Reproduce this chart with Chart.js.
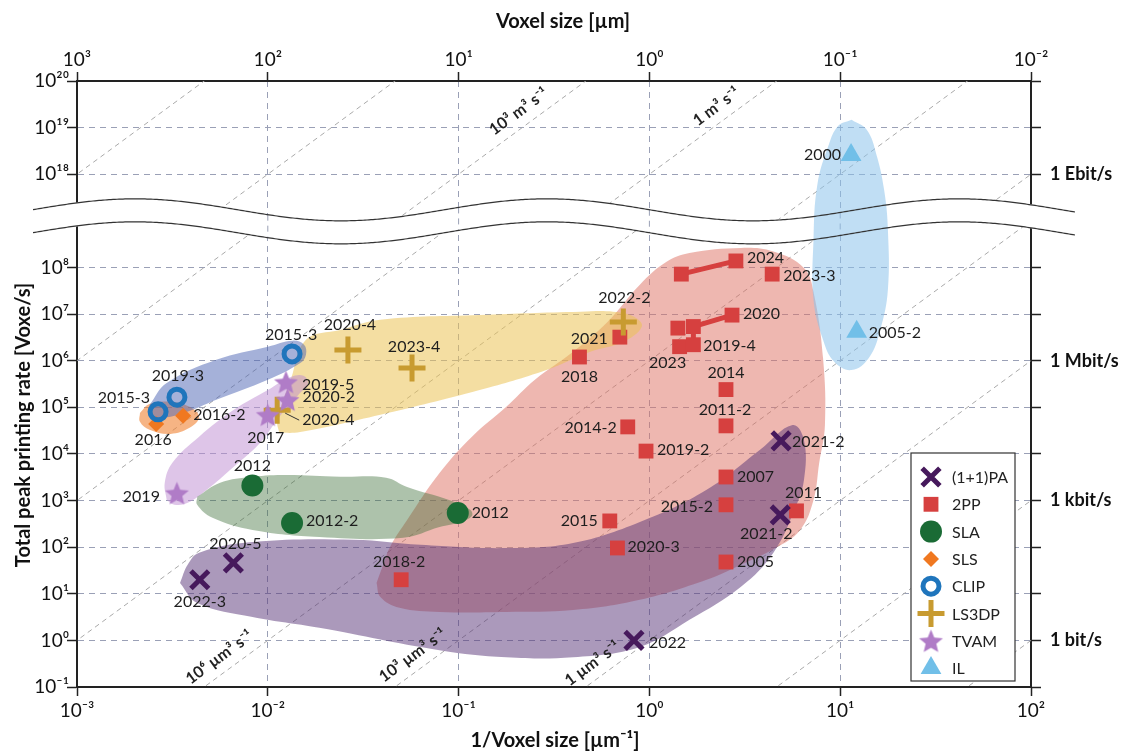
<!DOCTYPE html>
<html>
<head>
<meta charset="utf-8">
<script src="https://cdn.jsdelivr.net/npm/chart.js@4.4.1/dist/chart.umd.min.js"></script>
<style>
  html, body { margin: 0; padding: 0; background: #fff; }
  #wrap { width: 1124px; height: 753px; }
</style>
</head>
<body>
<div id="wrap"><canvas id="c" width="1124" height="753"></canvas></div>
<script>
'use strict'

// ---- values ----
// x = 1/voxel size [1/um], y = total peak printing rate [voxel/s]

const paX = [0.0044, 0.0066, 0.83, 4.9, 4.85]
const paY = [20, 46, 1.0, 1.9e4, 490]
const paYears = ['2022-3', '2020-5', '2022', '2021-2', '2021-2']

const ppX = [1.47, 2.84, 4.4, 1.41, 1.70, 2.71, 1.44, 1.70, 0.70, 0.43, 2.52, 2.52, 0.77, 0.96, 2.52, 2.52, 5.9, 0.62, 0.68, 2.52, 0.05]
const ppY = [7.2e7, 1.38e8, 7.2e7, 5.0e6, 5.4e6, 9.5e6, 2.0e6, 2.2e6, 3.2e6, 1.2e6, 2.4e5, 4.0e4, 3.8e4, 1.15e4, 3.2e3, 810, 600, 365, 96, 48, 20]
const ppYears = ['', '2024', '2023-3', '', '', '2020', '2023', '2019-4', '2021', '2018', '2014', '2011-2', '2014-2', '2019-2', '2007', '2015-2', '2011', '2015', '2020-3', '2005', '2018-2']
const ppLinks = [[0, 1], [4, 5], [4, 7]]

const slaX = [0.0083, 0.0134, 0.099]
const slaY = [2100, 330, 540]
const slaYears = ['2012', '2012-2', '2012']

const slsX = [0.0026, 0.0036]
const slsY = [4.4e4, 6.6e4]
const slsYears = ['2016', '2016-2']

const clipX = [0.00266, 0.00334, 0.0134]
const clipY = [8.0e4, 1.65e5, 1.4e6]
const clipYears = ['2015-3', '2019-3', '2015-3']

const lsX = [0.0263, 0.057, 0.73, 0.0112]
const lsY = [1.7e6, 7.0e5, 6.8e6, 8.7e4]
const lsYears = ['2020-4', '2023-4', '2022-2', '2020-4']

const tvX = [0.01245, 0.0127, 0.0100, 0.00334]
const tvY = [3.5e5, 1.45e5, 6.9e4, 1450]
const tvYears = ['2019-5', '2020-2', '2017', '2019']

const ilX = [11.4, 12.2]
const ilY = [2.6e18, 4.2e6]
const ilYears = ['2000', '2005-2']

// shaded regions, outline vertices as [log10 x, log10 y]
const ppArea = [[-1.43, 1.23], [-1.39, 1.68], [-1.36, 2.00], [-1.27, 2.58], [-1.10, 3.59], [-0.93, 4.37], [-0.75, 5.01], [-0.60, 5.59], [-0.40, 6.19], [-0.22, 6.83], [-0.05, 7.63], [0.09, 8.12], [0.21, 8.31], [0.48, 8.42], [0.65, 8.34], [0.81, 7.99], [0.86, 7.48], [0.91, 6.06], [0.92, 4.62], [0.89, 3.81], [0.86, 3.01], [0.79, 2.37], [0.66, 1.98], [0.48, 1.62], [0.30, 1.30], [-0.05, 0.87], [-0.40, 0.65], [-0.75, 0.61], [-1.10, 0.61], [-1.31, 0.70], [-1.41, 0.93]]
const paArea = [[-2.46, 1.23], [-2.42, 1.62], [-2.36, 1.88], [-2.08, 2.11], [-1.55, 2.16], [-1.20, 2.05], [-0.75, 1.98], [-0.40, 2.09], [-0.05, 2.54], [0.30, 3.23], [0.58, 4.09], [0.75, 4.62], [0.81, 4.30], [0.81, 3.44], [0.76, 2.80], [0.65, 1.88], [0.48, 1.15], [0.21, 0.44], [-0.05, -0.14], [-0.40, -0.36], [-0.75, -0.36], [-1.10, -0.21], [-1.73, 0.27], [-2.08, 0.50], [-2.37, 0.80]]
const slaArea = [[-2.37, 3.08], [-2.25, 3.38], [-2.08, 3.51], [-1.90, 3.55], [-1.62, 3.51], [-1.38, 3.49], [-1.27, 3.29], [-1.05, 3.01], [-0.94, 2.80], [-0.93, 2.67], [-0.99, 2.54], [-1.10, 2.43], [-1.29, 2.20], [-1.73, 2.22], [-2.08, 2.37], [-2.29, 2.63], [-2.37, 2.91]]
const lsArea = [[-1.94, 4.45], [-1.95, 4.73], [-1.88, 5.59], [-1.80, 6.45], [-1.62, 6.66], [-1.41, 6.88], [-0.89, 6.98], [-0.36, 7.05], [-0.19, 7.05], [-0.08, 6.94], [-0.04, 6.73], [-0.14, 6.40], [-0.31, 6.19], [-0.54, 5.80], [-0.89, 5.37], [-1.41, 4.84], [-1.83, 4.47]]
const slsArea = [[-2.67, 4.88], [-2.62, 5.07], [-2.51, 5.12], [-2.41, 5.01], [-2.36, 4.79], [-2.41, 4.56], [-2.51, 4.43], [-2.62, 4.52], [-2.67, 4.69]]
const clipArea = [[-2.62, 5.05], [-2.53, 5.52], [-2.27, 6.02], [-2.00, 6.30], [-1.87, 6.43], [-1.81, 6.34], [-1.80, 6.13], [-1.83, 5.95], [-2.00, 5.59], [-2.27, 5.16], [-2.44, 4.88], [-2.58, 4.77], [-2.62, 4.88]]
const tvArea = [[-2.53, 3.01], [-2.54, 3.38], [-2.50, 3.81], [-2.36, 4.37], [-2.18, 4.94], [-2.00, 5.37], [-1.88, 5.65], [-1.81, 5.67], [-1.79, 5.48], [-1.83, 5.31], [-1.94, 4.79], [-2.04, 4.24], [-2.18, 3.72], [-2.32, 3.23], [-2.42, 2.95], [-2.49, 2.91]]
const ilArea = [[1.06, 19.17], [1.14, 18.95], [1.19, 18.42], [1.23, 17.67], [1.25, 8.81], [1.25, 7.52], [1.21, 6.66], [1.15, 6.06], [1.06, 5.80], [0.97, 5.97], [0.91, 6.45], [0.86, 7.31], [0.86, 8.59], [0.88, 17.77], [0.94, 18.63], [0.99, 19.04]]

// iso volume-rate lines y = 10^c * x^3 (c in um^3/s)
const isoLow = [-6, -3, 0, 3, 6, 9, 12, 15]
const isoHigh = [12, 15, 18, 21, 24, 27]
const isoTags = [
  { c: 6, x: 0.0062, text: '10⁶ µm³ s⁻¹' },
  { c: 3, x: 0.064, text: '10³ µm³ s⁻¹' },
  { c: 0, x: 0.56, text: '1 µm³ s⁻¹' },
  { c: 21, x: 0.23, text: '10³ m³ s⁻¹' },
  { c: 18, x: 2.5, text: '1 m³ s⁻¹' }
]

const xDecades = [-3, -2, -1, 0, 1, 2]
const yStops = [-1, 0, 1, 2, 3, 4, 5, 6, 7, 8, 10, 11, 12]
const bitRates = { 0: '1 bit/s', 3: '1 kbit/s', 6: '1 Mbit/s', 10: '1 Ebit/s' }

// ---- label placement (pixel offsets from the marker) ----
const paLabelPos = [[0, 22, 'c'], [2, -19, 'c'], [15, 2, 'l'], [11, 1, 'l'], [-14, 19, 'c']]
const ppLabelPos = [null, [11, -3, 'l'], [11, 2, 'l'], null, null, [11, -1, 'l'], [-12, 16, 'c'], [10, 1, 'l'], [-12, 2, 'r'], [0, 20, 'c'], [0, -17, 'c'], [-1, -16, 'c'], [-11, 1, 'r'], [11, -1, 'l'], [11, 0, 'l'], [-13, 2, 'r'], [7, -18, 'c'], [-12, 0, 'r'], [10, -1, 'l'], [11, 0, 'l'], [-2, -18, 'c']]
const slaLabelPos = [[0, -20, 'c'], [14, -2, 'l'], [14, 0, 'l']]
const slsLabelPos = [[-3, 16, 'c'], [10, -1, 'l']]
const clipLabelPos = [[-8, -14, 'r'], [1, -21, 'c'], [-1, -19, 'c']]
const lsLabelPos = [[2, -25, 'c'], [2, -21, 'c'], [1, -24, 'c'], [25, 10, 'l', true]]
const tvLabelPos = [[16, 3, 'l'], [15, -3, 'l'], [-2, 23, 'c'], [-17, 4, 'r']]
const ilLabelPos = [[-10, 0, 'r'], [12, 1, 'l']]

const SUP = { 0: '⁰', 1: '¹', 2: '²', 3: '³', 4: '⁴', 5: '⁵', 6: '⁶', 7: '⁷', 8: '⁸', 9: '⁹', '-': '⁻' }
const sup = n => String(n).split('').map(ch => SUP[ch]).join('')

// broken y axis: decades 1e-1..1e9 below the break, 1e17..1e20 above it
function toAxis (y) {
  const e = Math.log10(y)
  if (e <= 9) return e
  if (e >= 17) return e - 8
  return 9
}

const points = (xs, ys) => xs.map((x, i) => ({ x, y: toAxis(ys[i]) }))

function outline (pts) {
  const d = pts.map(p => ({ x: 10 ** p[0], y: toAxis(10 ** p[1]) }))
  d.push(d[0])
  return d
}

function isoLine (c, yFrom, yTo) {
  return [yFrom, yTo].map(y => ({ x: Math.cbrt(y / 10 ** c), y: toAxis(y) }))
}

function starImage (color, r) {
  const cv = document.createElement('canvas')
  cv.width = cv.height = Math.ceil(r * 2 + 2)
  const g = cv.getContext('2d')
  g.translate(cv.width / 2, cv.height / 2 + r * 0.1)
  g.beginPath()
  for (let i = 0; i < 10; i++) {
    const rr = i % 2 ? r * 0.45 : r
    const a = -Math.PI / 2 + i * Math.PI / 5
    g.lineTo(rr * Math.cos(a), rr * Math.sin(a))
  }
  g.closePath()
  g.fillStyle = color
  g.fill()
  return cv
}

const styles = {
  pa: { pointStyle: 'crossRot', pointRadius: 12.5, pointBackgroundColor: '#46195c', pointBorderColor: '#46195c', pointBorderWidth: 5 },
  pp: { pointStyle: 'rect', pointRadius: 10.5, pointBackgroundColor: '#d6403f', pointBorderColor: '#d6403f', pointBorderWidth: 0 },
  sla: { pointStyle: 'circle', pointRadius: 11, pointBackgroundColor: '#1a6b35', pointBorderColor: '#1a6b35', pointBorderWidth: 0 },
  sls: { pointStyle: 'rectRot', pointRadius: 8, pointBackgroundColor: '#f07820', pointBorderColor: '#f07820', pointBorderWidth: 0 },
  clip: { pointStyle: 'circle', pointRadius: 8, pointBackgroundColor: 'rgba(0,0,0,0)', pointBorderColor: '#1f75bc', pointBorderWidth: 5 },
  ls: { pointStyle: 'cross', pointRadius: 13.5, pointBackgroundColor: '#c89b30', pointBorderColor: '#c89b30', pointBorderWidth: 5 },
  tv: { pointStyle: starImage('#b07cc7', 12.5), pointRadius: 12, pointBackgroundColor: '#b07cc7', pointBorderColor: '#b07cc7', pointBorderWidth: 0 },
  il: { pointStyle: 'triangle', pointRadius: 12, pointBackgroundColor: '#71bfe8', pointBorderColor: '#71bfe8', pointBorderWidth: 0 }
}

function markers (xs, ys, years, pos, style, order) {
  return { type: 'scatter', data: points(xs, ys), yearLabels: years, labelPos: pos, order, ...style }
}

function blob (pts, color, order) {
  return { type: 'line', data: outline(pts), fill: 'shape', backgroundColor: color, borderWidth: 0, borderColor: 'rgba(0,0,0,0)', pointRadius: 0, tension: 0.4, order, isBlob: true }
}

const isoSets = [
  ...isoLow.map(c => isoLine(c, 1e-2, 1e9)),
  ...isoHigh.map(c => isoLine(c, 1e17, 1e22))
].map(data => ({ type: 'line', data, borderColor: '#a9a9a9', borderWidth: 1, borderDash: [5, 4], pointRadius: 0, fill: false, order: 20 }))

const linkSets = ppLinks.map(([a, b]) => ({
  type: 'line', data: points([ppX[a], ppX[b]], [ppY[a], ppY[b]]), borderColor: '#d6403f', borderWidth: 5, pointRadius: 0, fill: false, order: 8
}))

const datasets = [
  markers(paX, paY, paYears, paLabelPos, styles.pa, 0),
  markers(tvX, tvY, tvYears, tvLabelPos, styles.tv, 1),
  markers(clipX, clipY, clipYears, clipLabelPos, styles.clip, 2),
  markers(lsX, lsY, lsYears, lsLabelPos, styles.ls, 3),
  markers(slsX, slsY, slsYears, slsLabelPos, styles.sls, 4),
  markers(slaX, slaY, slaYears, slaLabelPos, styles.sla, 5),
  markers(ilX, ilY, ilYears, ilLabelPos, styles.il, 6),
  markers(ppX, ppY, ppYears, ppLabelPos, styles.pp, 7),
  ...linkSets,
  blob(ilArea, 'rgba(140,195,235,0.55)', 10),
  blob(paArea, 'rgba(88,52,120,0.5)', 11),
  blob(slaArea, 'rgba(60,110,55,0.42)', 12),
  blob(tvArea, 'rgba(190,140,210,0.5)', 13),
  blob(clipArea, 'rgba(75,100,180,0.5)', 14),
  blob(slsArea, 'rgba(240,130,50,0.6)', 15),
  blob(lsArea, 'rgba(235,195,85,0.55)', 16),
  blob(ppArea, 'rgba(222,112,98,0.5)', 17),
  ...isoSets
]

const legendRows = [['(1+1)PA', styles.pa], ['2PP', styles.pp], ['SLA', styles.sla], ['SLS', styles.sls], ['CLIP', styles.clip], ['LS3DP', styles.ls], ['TVAM', styles.tv], ['IL', styles.il]]

// ---- drawing helpers ----
const FONT = 'Lato, "DejaVu Sans", sans-serif'
const gridColor = '#9aa0b6'

function waveTop (chart, px) {
  const yc = chart.scales.y.getPixelForValue(9)
  const x0 = chart.chartArea.left
  return yc - 11 - 11 * Math.cos(2 * Math.PI * (px - x0 - 58) / 412)
}
const GAP = 23

function wavePath (ctx, chart, off) {
  ctx.beginPath()
  for (let px = 33; px <= 1075; px += 2) ctx.lineTo(px, waveTop(chart, px) + off)
}

function drawGap (chart) {
  const ctx = chart.ctx
  ctx.save()
  ctx.beginPath()
  for (let px = 33; px <= 1075; px += 2) ctx.lineTo(px, waveTop(chart, px) - 0.5)
  for (let px = 1075; px >= 33; px -= 2) ctx.lineTo(px, waveTop(chart, px) + GAP + 0.5)
  ctx.closePath()
  ctx.fillStyle = '#fff'
  ctx.fill()
  ctx.strokeStyle = gridColor
  ctx.lineWidth = 1
  ctx.setLineDash([6, 5])
  xDecades.slice(1, -1).forEach(e => {
    const px = chart.scales.x.getPixelForValue(10 ** e)
    ctx.beginPath()
    ctx.moveTo(px, waveTop(chart, px))
    ctx.lineTo(px, waveTop(chart, px) + GAP)
    ctx.stroke()
  })
  ctx.restore()
}

function drawWaves (chart) {
  const ctx = chart.ctx
  ctx.save()
  ctx.strokeStyle = '#333'
  ctx.lineWidth = 1.2
  wavePath(ctx, chart, 0)
  ctx.stroke()
  wavePath(ctx, chart, GAP)
  ctx.stroke()
  ctx.restore()
}

function drawIsoTags (chart) {
  const ctx = chart.ctx
  const xs = chart.scales.x
  const ys = chart.scales.y
  ctx.save()
  ctx.font = 'bold 16px ' + FONT
  ctx.fillStyle = '#222'
  ctx.textAlign = 'center'
  ctx.textBaseline = 'middle'
  isoTags.forEach(t => {
    const p1 = { x: xs.getPixelForValue(t.x), y: ys.getPixelForValue(toAxis(10 ** t.c * t.x ** 3)) }
    const x2 = t.x * 2
    const p2 = { x: xs.getPixelForValue(x2), y: ys.getPixelForValue(toAxis(10 ** t.c * x2 ** 3)) }
    const ang = Math.atan2(p2.y - p1.y, p2.x - p1.x)
    ctx.save()
    ctx.translate(p1.x, p1.y)
    ctx.rotate(ang)
    ctx.fillText(t.text, 0, -15)
    ctx.restore()
  })
  ctx.restore()
}

function drawYearLabels (chart) {
  const ctx = chart.ctx
  ctx.save()
  ctx.font = '16px ' + FONT
  ctx.fillStyle = '#1e1e1e'
  ctx.textBaseline = 'middle'
  chart.data.datasets.forEach((ds, di) => {
    if (!ds.yearLabels) return
    const meta = chart.getDatasetMeta(di)
    ds.yearLabels.forEach((txt, i) => {
      if (!txt) return
      const [dx, dy, al, lead] = ds.labelPos[i]
      const el = meta.data[i]
      ctx.textAlign = { l: 'left', r: 'right', c: 'center' }[al]
      ctx.fillText(txt, el.x + dx, el.y + dy)
      if (lead) {
        ctx.strokeStyle = '#333'
        ctx.lineWidth = 1
        ctx.beginPath()
        ctx.moveTo(el.x + 8, el.y + 3)
        ctx.lineTo(el.x + dx - 3, el.y + dy)
        ctx.stroke()
      }
    })
  })
  ctx.restore()
}

function drawLegend (chart) {
  const ctx = chart.ctx
  ctx.save()
  ctx.fillStyle = '#fff'
  ctx.fillRect(911, 453, 104, 228)
  ctx.strokeStyle = '#333'
  ctx.lineWidth = 1.2
  ctx.strokeRect(911, 453, 104, 228)
  legendRows.forEach(([name, st], i) => {
    const y = 477 + i * 27.3
    ctx.fillStyle = st.pointBackgroundColor
    ctx.strokeStyle = st.pointBorderColor
    ctx.lineWidth = st.pointBorderWidth
    Chart.helpers.drawPoint(ctx, { pointStyle: st.pointStyle, radius: st.pointRadius, borderWidth: st.pointBorderWidth, rotation: 0 }, 931, y)
    ctx.fillStyle = '#222'
    ctx.font = '16px ' + FONT
    ctx.textAlign = 'left'
    ctx.textBaseline = 'middle'
    ctx.fillText(name, 952, y + 1)
  })
  ctx.restore()
}

function drawTitles (chart) {
  const ctx = chart.ctx
  ctx.save()
  ctx.fillStyle = '#111'
  ctx.font = 'bold 20px ' + FONT
  ctx.textAlign = 'center'
  ctx.textBaseline = 'middle'
  ctx.fillText('Voxel size [µm]', 563, 22)
  ctx.fillText('1/Voxel size [µm⁻¹]', 555, 741)
  ctx.translate(24, 425)
  ctx.rotate(-Math.PI / 2)
  ctx.fillText('Total peak printing rate [Voxe/s]', 0, 0)
  ctx.restore()
}

let gapDone = false
const breakPlugin = {
  id: 'axisBreak',
  beforeDatasetsDraw () { gapDone = false },
  beforeDatasetDraw (chart, args) {
    if (gapDone || !chart.data.datasets[args.index].isBlob) return
    gapDone = true
    drawGap(chart)
  },
  afterDatasetsDraw (chart) {
    drawWaves(chart)
    drawIsoTags(chart)
    drawYearLabels(chart)
    drawLegend(chart)
    drawTitles(chart)
  }
}

const tickFont = { family: FONT, size: 19 }
const gridOpts = { color: gridColor, lineWidth: 1, tickLength: 9, tickColor: '#222', tickWidth: 1.5, tickBorderDash: [] }
const borderOpts = { color: '#222', width: 2, dash: [6, 5] }

new Chart(document.getElementById('c'), {
  type: 'scatter',
  data: { datasets },
  options: {
    responsive: false,
    animation: false,
    events: [],
    layout: { padding: 0 },
    plugins: { legend: { display: false }, tooltip: { enabled: false } },
    scales: {
      x: {
        type: 'logarithmic',
        position: 'bottom',
        min: 1e-3,
        max: 1e2,
        afterBuildTicks: s => { s.ticks = xDecades.map(e => ({ value: 10 ** e })) },
        afterFit: s => { s.height = 66 },
        ticks: { callback: v => '10' + sup(Math.round(Math.log10(v))), font: tickFont, color: '#111', padding: 3, maxRotation: 0, autoSkip: false },
        grid: gridOpts,
        border: borderOpts
      },
      x2: {
        type: 'logarithmic',
        axis: 'x',
        position: 'top',
        min: 1e-3,
        max: 1e2,
        afterBuildTicks: s => { s.ticks = xDecades.map(e => ({ value: 10 ** e })) },
        afterFit: s => { s.height = 81 },
        ticks: { callback: v => '10' + sup(-Math.round(Math.log10(v))), font: tickFont, color: '#111', padding: 1, maxRotation: 0, autoSkip: false },
        grid: { ...gridOpts, drawOnChartArea: false },
        border: borderOpts
      },
      y: {
        type: 'linear',
        position: 'left',
        min: -1,
        max: 12,
        afterBuildTicks: s => { s.ticks = yStops.map(v => ({ value: v })) },
        afterFit: s => { s.width = 77 },
        ticks: { callback: v => '10' + sup(v <= 9 ? v : v + 8), font: tickFont, color: '#111', padding: -2, autoSkip: false },
        grid: { ...gridOpts, tickLength: 10 },
        border: borderOpts
      },
      y2: {
        type: 'linear',
        axis: 'y',
        position: 'right',
        min: -1,
        max: 12,
        afterBuildTicks: s => { s.ticks = yStops.map(v => ({ value: v })) },
        afterFit: s => { s.width = 93 },
        ticks: { callback: v => bitRates[v] || '', font: { family: FONT, size: 18, weight: 'bold' }, color: '#111', padding: 9, autoSkip: false },
        grid: { ...gridOpts, tickLength: 10, drawOnChartArea: false },
        border: borderOpts
      }
    }
  },
  plugins: [breakPlugin]
})
</script>
</body>
</html>
